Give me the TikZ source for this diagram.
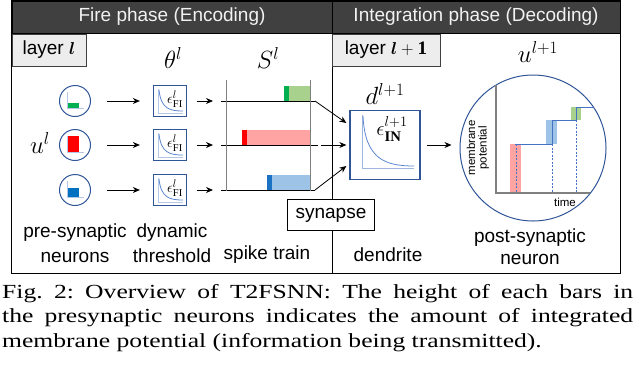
\documentclass[tikz,border=0pt]{standalone}
\usepackage{fontspec}
\setmainfont{Liberation Serif}
\setsansfont{Liberation Sans}
\newfontfamily\capfont[FakeStretch=1.28]{Liberation Serif}
\usepackage{amsmath}
\usepackage{bm}
\usetikzlibrary{arrows.meta,positioning,calc}

\definecolor{hdrgray}{HTML}{404040}
\definecolor{hdrtext}{HTML}{F2F2F2}
\definecolor{tagfill}{HTML}{EDEDED}
\definecolor{boxblue}{HTML}{2F5597}
\definecolor{axblue}{HTML}{B4C7E7}
\definecolor{decayblue}{HTML}{5B87D0}
\definecolor{stepblue}{HTML}{4472C4}
\definecolor{grnD}{HTML}{00B050}
\definecolor{grnL}{HTML}{A9D18E}
\definecolor{redD}{HTML}{FF0000}
\definecolor{redL}{HTML}{FFA3A3}
\definecolor{bluD}{HTML}{0070C0}
\definecolor{bluL}{HTML}{9DC3E6}

\begin{document}
\begin{tikzpicture}[
    x=1pt, y=-1pt,
    font=\sffamily\fontsize{19}{23}\selectfont,
    >={Stealth[width=6pt,length=7pt]},
    header/.style={draw=black, fill=hdrgray, text=hdrtext, line width=1pt,
                   minimum height=32pt, inner sep=0pt},
    tag/.style={draw=black!75, fill=tagfill, line width=0.8pt, minimum height=32pt, inner sep=0pt},
    neuron/.style={circle, draw=boxblue, line width=1pt, minimum size=31pt, inner sep=0pt},
    thr/.style={draw=boxblue, line width=1.3pt, minimum width=33pt, minimum height=31pt, inner sep=0pt},
    dbox/.style={draw=boxblue, line width=1.3pt, minimum width=70pt, minimum height=69pt, inner sep=0pt},
    soma/.style={circle, draw=boxblue, line width=1pt, minimum size=146pt, inner sep=0pt},
    sym/.style={font=\fontsize{24}{24}\selectfont, inner sep=0pt},
    lbl/.style={align=center, inner sep=0pt, font=\sffamily\fontsize{19}{25}\selectfont},
    axlbl/.style={font=\sffamily\fontsize{11.5}{11.5}\selectfont, align=center, inner sep=0pt},
    arr/.style={->, line width=0.8pt},
    ax/.style={draw=axblue, line width=0.8pt},
    decay/.style={draw=decayblue, line width=0.8pt},
    train/.style={line width=0.9pt},
    gax/.style={draw=black!50, line width=1.2pt},
    drop/.style={draw=stepblue, line width=0.6pt, dash pattern=on 2pt off 1.5pt}
  ]
  \useasboundingbox (0,0) rectangle (640,365);

  % ---------- frame and phase headers -------------------------------------
  \node[header, minimum width=320pt] (fire)  at (172,17) {Fire phase (Encoding)};
  \node[header, minimum width=288pt] (integ) at (476,17) {Integration phase (Decoding)};
  \coordinate (frameSE) at (620,273);
  \draw[line width=1pt] (fire.north west) rectangle (frameSE);
  \draw[line width=1pt] (fire.south east) -- (fire.south east |- frameSE);

  \node[tag, anchor=north west, minimum width=74pt]  (tagA) at (fire.south west)  {layer $\bm{l}$};
  \node[tag, anchor=north west, minimum width=108pt] (tagB) at (integ.south west) {layer $\bm{l}+\mathbf{1}$};

  % ---------- symbols ------------------------------------------------------
  \node[sym] (thlab) at (173,58)  {$\theta^{l}$};
  \node[sym] (slab)  at (268,58)  {$S^{l}$};
  \node[sym] (ulab)  at (40,143)  {$u^{l}$};
  \node[sym, font=\fontsize{26}{26}\selectfont] (dlab)  at (385,94) {$d^{l+1}$};
  \node[sym, font=\fontsize{26}{26}\selectfont] (upost) at (538,52) {$u^{l+1}$};

  % ---------- pre-synaptic rows --------------------------------------------
  % one row per neuron: icon, threshold kernel, spike in the train
  \foreach \i/\y/\clr/\h/\bx in {1/101/grn/5/284, 2/145/red/16/242, 3/190/blu/9/267}{
    \node[neuron] (n\i) at (75,\y) {};
    \fill[\clr D] ($(n\i)+(-8,7)$) rectangle ($(n\i)+(4,{7-\h})$);
    \draw[ax] ($(n\i)+(-8,-9)$) -- ($(n\i)+(-8,7)$) -- ($(n\i)+(9,7)$);

    \node[thr] (th\i) at (170,\y) {};
    \draw[ax] ($(th\i)+(-12,-12)$) -- ($(th\i)+(-12,12)$) -- ($(th\i)+(13,12)$);
    \draw[decay] ($(th\i)+(-11,-11)$) .. controls ($(th\i)+(-9,8)$) and ($(th\i)+(0,10)$) .. ($(th\i)+(13,10)$);
    \node[font=\fontsize{15}{15}\selectfont, inner sep=0pt] (eps\i) at ($(th\i)+(5,-2)$) {$\epsilon^{l}_{\mathrm{FI}}$};

    \coordinate (sp\i) at (221,\y);
    \coordinate (e\i)  at (315,\y);
    \fill[\clr L] (\bx,\y) rectangle (310,{\y-15});
    \fill[\clr D] (\bx,\y) rectangle ({\bx+5},{\y-15});
    \draw[train] (sp\i) -- (e\i);

    \draw[arr, shorten <=16pt, shorten >=13pt] (n\i) -- (th\i);
    \draw[arr, shorten <=9.5pt, shorten >=8pt] (th\i) -- (sp\i);
  }
  \fill[bluD!60!stepblue] (267,190) rectangle (272,175);
  \draw[gax, line width=1pt] (226,80) -- (226,191);
  \draw[gax, line width=1pt] (310,80) -- (310,191);

  % ---------- dendrite -----------------------------------------------------
  \node[dbox] (dend) at (385,145) {};
  \draw[ax, draw=axblue!80!stepblue] ($(dend)+(-23,-30)$) -- ($(dend)+(-23,23)$) -- ($(dend)+(29,23)$);
  \draw[decay] ($(dend)+(-22,-29)$) .. controls ($(dend)+(-20,14)$) and ($(dend)+(0,21)$) .. ($(dend)+(29,21)$);
  \node[font=\fontsize{21}{21}\selectfont, inner sep=0pt] (epsIN) at ($(dend)+(7,-16)$) {$\epsilon^{l+1}_{\mathbf{IN}}$};

  \coordinate (o2) at (322,145);
  \draw[arr] (e1) -- ($(dend.west)+(-3,-22)$);
  \draw[train, dashed] (e2) -- (o2);
  \draw[arr] (o2) -- ($(dend.west)+(-3,0)$);
  \draw[arr] (e3) -- ($(dend.west)+(-3,21)$);

  \node[tag, fill=white, draw=black, minimum width=87pt, minimum height=31pt] (syn) at (331,215) {synapse};

  % ---------- post-synaptic neuron -----------------------------------------
  \node[soma] (post) at (533,148) {};
  \draw[arr, shorten <=6pt, shorten >=8pt] (dend.east) -- (dend.east -| post.west);

  \fill[redL] (510,144) rectangle (521,193);
  \fill[bluL] (546,120) rectangle (557,144);
  \fill[grnL] (571,107) rectangle (581,120);
  \draw[drop] (516,144) -- (516,193);
  \draw[drop] (552,144) -- (552,193);
  \draw[drop] (576,120) -- (576,193);
  \draw[draw=stepblue, line width=1pt] (515,144) -- (552,144) -- (552,120) -- (576,120) -- (576,107) -- (593,107);
  \draw[gax] (496,85) -- (496,193) -- (590,193);
  \node[axlbl, rotate=90] (mplab) at (478,148) {membrane\\potential};
  \node[axlbl] (tlab) at (565,202) {time};

  % ---------- bottom labels ------------------------------------------------
  \node[lbl] (lpre)  at (75,243)  {pre-synaptic\\neurons};
  \node[lbl] (lthr)  at (172,243) {dynamic\\threshold};
  \node[lbl] (lspk)  at (267,255) {spike train};
  \node[lbl] (lden)  at (388,255) {dendrite};
  \node[lbl, font=\sffamily\fontsize{19}{22}\selectfont] (lpost) at (530,247) {post-synaptic\\neuron};

  % ---------- caption ------------------------------------------------------
  \node[anchor=north west, text width=631pt, inner sep=0pt, align=justify,
        font=\capfont\fontsize{20}{24.5}\selectfont\frenchspacing] (caption) at (2,284)
    {Fig.~2: Overview of T2FSNN: The height of each bars in\linebreak
     the presynaptic neurons indicates the amount of integrated\linebreak
     membrane potential (information being transmitted).};

\end{tikzpicture}
\end{document}
